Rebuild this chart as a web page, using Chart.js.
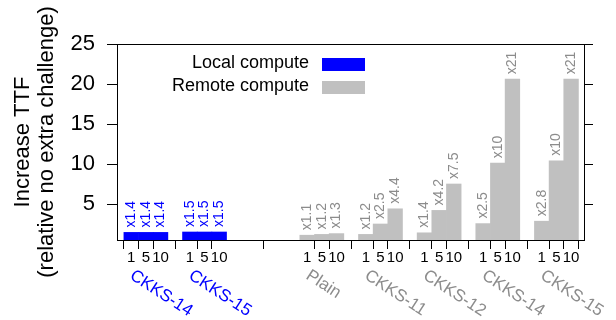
<!DOCTYPE html>
<html>
<head>
<meta charset="utf-8">
<script src="https://cdn.jsdelivr.net/npm/chart.js@4.4.0/dist/chart.umd.min.js"></script>
<style>
	html, body { margin: 0; padding: 0; background: #fff; }
	#wrap { width: 616px; height: 320px; }
</style>
</head>
<body>
<div id="wrap"><canvas id="ttfChart"></canvas></div>
<script>
// groups along the x axis (slot 2 is left empty in the original figure)
const groupNames = ['CKKS-14', 'CKKS-15', 'Plain', 'CKKS-11', 'CKKS-12', 'CKKS-14', 'CKKS-15'];
const groupSlots = [0, 1, 3, 4, 5, 6, 7];
const groupIsLocal = [true, true, false, false, false, false, false];
const challengeSizes = ['1', '5', '10'];

// increase in TTF, three challenge sizes per group
const localValues = [1.45, 1.45, 1.45, 1.5, 1.5, 1.5];
const localLabels = ['x1.4', 'x1.4', 'x1.4', 'x1.5', 'x1.5', 'x1.5'];
const remoteValues = [1.1, 1.2, 1.3, 1.2, 2.5, 4.4, 1.4, 4.2, 7.5, 2.55, 10.1, 20.6, 2.85, 10.4, 20.6];
const remoteLabels = ['x1.1', 'x1.2', 'x1.3', 'x1.2', 'x2.5', 'x4.4', 'x1.4', 'x4.2', 'x7.5', 'x2.5', 'x10', 'x21', 'x2.8', 'x10', 'x21'];

const yTicks = [5, 10, 15, 20, 25];

const BLUE = '#0000ff';
const GREY = '#c0c0c0';
const GREY_TEXT = '#8c8c8c';
const FONT = "'Liberation Sans', Arial, Helvetica, sans-serif";

// bar positions on the x axis: 4 units per group, 3 bars + a gap
const localPos = [];
const remotePos = [];
groupSlots.forEach((slot, g) => {
	challengeSizes.forEach((s, j) => {
		(groupIsLocal[g] ? localPos : remotePos).push(slot * 4 + j);
	});
});
const xTickPos = localPos.concat(remotePos);
const xTickText = xTickPos.map((p, i) => challengeSizes[i % 3]);

const localData = localPos.map((x, i) => ({x: x, y: localValues[i]}));
const remoteData = remotePos.map((x, i) => ({x: x, y: remoteValues[i]}));

const valueLabels = {
	id: 'valueLabels',
	afterDatasetsDraw(chart) {
		const ctx = chart.ctx;
		const sets = [[localLabels, BLUE], [remoteLabels, GREY_TEXT]];
		ctx.save();
		ctx.font = '14px ' + FONT;
		sets.forEach(([labels, color], d) => {
			chart.getDatasetMeta(d).data.forEach((bar, i) => {
				ctx.save();
				ctx.fillStyle = color;
				ctx.translate(bar.x, bar.y - 5);
				ctx.rotate(-Math.PI / 2);
				ctx.textAlign = 'left';
				ctx.textBaseline = 'middle';
				ctx.fillText(labels[i], 0, 0);
				ctx.restore();
			});
		});
		ctx.restore();
	}
};

const groupLabels = {
	id: 'groupLabels',
	afterDraw(chart) {
		const ctx = chart.ctx;
		const xs = chart.scales.x;
		ctx.save();
		ctx.font = '17px ' + FONT;
		groupNames.forEach((name, g) => {
			const x = xs.getPixelForValue(groupSlots[g] * 4);
			ctx.save();
			ctx.fillStyle = groupIsLocal[g] ? BLUE : GREY_TEXT;
			ctx.translate(x + 5, 267);
			ctx.rotate(33 * Math.PI / 180);
			ctx.textAlign = 'left';
			ctx.textBaseline = 'top';
			ctx.fillText(name, 0, 0);
			ctx.restore();
		});
		ctx.restore();
	}
};

// top border line + legend drawn inside the plot, text on the left of the swatch
const frameAndLegend = {
	id: 'frameAndLegend',
	afterDraw(chart) {
		const ctx = chart.ctx;
		const area = chart.chartArea;
		ctx.save();
		ctx.strokeStyle = '#000';
		ctx.lineWidth = 1;
		ctx.beginPath();
		ctx.moveTo(area.left, Math.round(area.top) + 0.5);
		ctx.lineTo(area.right, Math.round(area.top) + 0.5);
		ctx.stroke();

		ctx.font = '18px ' + FONT;
		ctx.textAlign = 'right';
		ctx.textBaseline = 'alphabetic';
		ctx.fillStyle = '#000';
		chart.data.datasets.forEach((ds, i) => {
			const y = 58 + i * 23;
			ctx.fillText(ds.label, 309, y + 10);
			ctx.fillStyle = ds.backgroundColor;
			ctx.fillRect(322, y, 43, 13);
			ctx.fillStyle = '#000';
		});
		ctx.restore();
	}
};

new Chart(document.getElementById('ttfChart'), {
	type: 'bar',
	data: {
		datasets: [
			{label: 'Local compute', data: localData, backgroundColor: BLUE, grouped: false, barPercentage: 1, categoryPercentage: 1, borderWidth: 0},
			{label: 'Remote compute', data: remoteData, backgroundColor: GREY, grouped: false, barPercentage: 1, categoryPercentage: 1, borderWidth: 0},
		]
	},
	options: {
		responsive: true,
		maintainAspectRatio: false,
		animation: false,
		devicePixelRatio: 1,
		layout: {padding: {top: 44, left: 0, right: 0, bottom: 0}},
		plugins: {
			legend: {display: false},
			tooltip: {enabled: false},
		},
		scales: {
			x: {
				type: 'linear',
				position: 'bottom',
				offset: false,
				min: -0.97,
				max: 30.88,
				afterBuildTicks: (s) => { s.ticks = xTickPos.map(v => ({value: v})); },
				afterFit: (s) => { s.height = 80; },
				ticks: {
					autoSkip: false,
					maxRotation: 0,
					minRotation: 0,
					padding: 0,
					color: '#000',
					font: {family: FONT, size: 15},
					callback: (v, i) => xTickText[i],
				},
				grid: {drawOnChartArea: false, drawTicks: true, tickLength: 9, color: '#000', tickColor: '#000'},
				border: {display: true, color: '#000', width: 1},
			},
			y: {
				type: 'linear',
				position: 'left',
				min: 0.5,
				max: 25,
				afterBuildTicks: (s) => { s.ticks = yTicks.map(v => ({value: v})); },
				afterFit: (s) => { s.width = 117; },
				ticks: {padding: 12, color: '#000', font: {family: FONT, size: 22}},
				grid: {drawOnChartArea: false, drawTicks: true, tickLength: 10, color: '#000', tickColor: '#000'},
				border: {display: true, color: '#000', width: 1},
				title: {
					display: true,
					text: ['Increase TTF', '(relative no extra challenge)'],
					color: '#000',
					font: {family: FONT, size: 22, lineHeight: 1.1},
					padding: {top: 11, bottom: 0},
				},
			},
			y2: {
				type: 'linear',
				position: 'right',
				min: 0.5,
				max: 25,
				afterBuildTicks: (s) => { s.ticks = yTicks.map(v => ({value: v})); },
				afterFit: (s) => { s.width = 32; },
				ticks: {display: false},
				grid: {drawOnChartArea: false, drawTicks: true, tickLength: 9, color: '#000', tickColor: '#000'},
				border: {display: true, color: '#000', width: 1},
			},
		}
	},
	plugins: [valueLabels, groupLabels, frameAndLegend]
});
</script>
</body>
</html>
